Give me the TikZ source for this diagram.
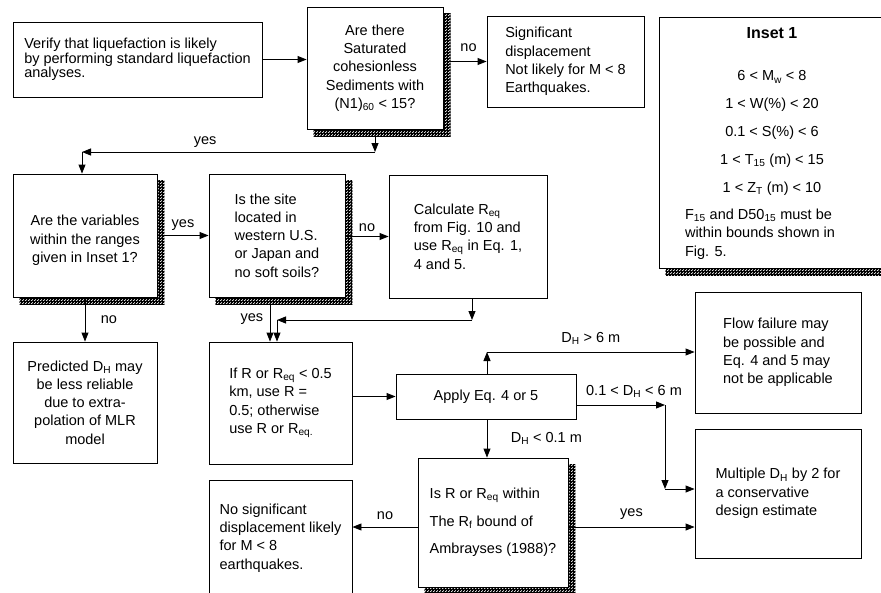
\documentclass[tikz,border=0pt]{standalone}
\usepackage{fontspec}
\setmainfont{Liberation Sans}
\usetikzlibrary{arrows.meta,positioning,backgrounds,patterns}
\newcommand{\Dh}{D\textsubscript{H}}
\newcommand{\Req}{R\textsubscript{eq}}

\begin{document}
\begin{tikzpicture}[x=1pt,y=-1pt,line width=0.9pt,
      >={Triangle[length=9pt,width=7pt]},
      every node/.style={font=\fontsize{14.5}{18.3}\selectfont},
      box/.style={draw,fill=white,inner sep=0pt},
      shadowfill/.style={pattern=crosshatch,postaction={pattern=crosshatch dots},postaction={pattern=grid}}]
      \useasboundingbox (0,0) rectangle (881,592);

      \node[box,minimum width=249pt,minimum height=75pt,align=left,font=\fontsize{14.5}{14.5}\selectfont] (1) at (137.5,59.5) {Verify that liquefaction is likely\\by performing standard liquefaction\\analyses.};
      \node[box,minimum width=136pt,minimum height=122pt,align=center] (2) at (375,68) {Are there\\Saturated\\cohesionless\\Sediments with\\(N1)\textsubscript{60} < 15?};
      \node[box,minimum width=157pt,minimum height=91pt,align=left] (3) at (565.5,61.5) {Significant\\displacement\\Not likely for M < 8\\Earthquakes.};

      % inset with the ranges
      \node[box,minimum width=226pt,minimum height=251pt] (4) at (772,142.5) {};
      \node[font=\bfseries\fontsize{16}{18}\selectfont] (i0) at (772,33) {Inset 1};
      \node[node distance=44pt,below of=i0] (i1) {6 < M\textsubscript{w} < 8};
      \node[node distance=28pt,below of=i1] (i2) {1 < W(\%) < 20};
      \node[node distance=28pt,below of=i2] (i3) {0.1 < S(\%) < 6};
      \node[node distance=28pt,below of=i3] (i4) {1 < T\textsubscript{15} (m) < 15};
      \node[node distance=28pt,below of=i4] (i5) {1 < Z\textsubscript{T} (m) < 10};
      \node[node distance=45pt,below of=i5,xshift=-12pt,align=left] (i6) {F\textsubscript{15} and D50\textsubscript{15} must be\\within bounds shown in\\Fig. 5.};

      \node[box,minimum width=144pt,minimum height=123pt,align=center] (5) at (85,235.5) {\mbox{}\\[2pt]Are the variables\\within the ranges\\given in Inset 1?};
      \node[box,minimum width=136pt,minimum height=123pt,align=left] (6) at (277,235.5) {Is the site\\located in\\western U.S.\\or Japan and\\no soft soils?};
      \node[box,minimum width=158pt,minimum height=123pt,align=left] (7) at (468,236.5) {Calculate \Req\\from Fig. 10 and\\use \Req{} in Eq. 1,\\4 and 5.};
      \node[box,minimum width=144pt,minimum height=121pt,align=center] (8) at (85,402.5) {Predicted \Dh{} may\\be less reliable\\due to extra-\\polation of MLR\\model};
      \node[box,minimum width=143pt,minimum height=122pt,align=left] (9) at (280.5,403) {If R or \Req{} < 0.5\\km, use R =\\0.5; otherwise\\use R or R\textsubscript{eq.}};
      \node[box,minimum width=180pt,minimum height=45pt] (10) at (486,396.5) {Apply Eq. 4 or 5};
      \node[box,minimum width=166pt,minimum height=121pt,align=left] (11) at (778,352.5) {Flow failure may\\be possible and\\Eq. 4 and 5 may\\not be applicable};
      \node[box,minimum width=166pt,minimum height=129pt,align=left] (12) at (778,493.5) {Multiple \Dh{} by 2 for\\a conservative\\design estimate};
      \node[box,minimum width=150pt,minimum height=129pt,align=left,font=\fontsize{14.5}{27.5}\selectfont] (13) at (493,522.5) {Is R or \Req{} within\\The R\textsubscript{f} bound of\\Ambrayses (1988)?};
      \node[box,minimum width=143pt,minimum height=116pt,align=left] (14) at (280.5,538) {No significant\\displacement likely\\for M < 8\\earthquakes.};

      % shadows of the question boxes
      \begin{scope}[on background layer]
        \foreach \n in {2,4,5,6,13}
          \fill[shadowfill] ([shift={(7pt,-7pt)}]\n.south west) rectangle ([shift={(7pt,-7pt)}]\n.north east);
      \end{scope}

      % bends of the connectors
      \coordinate (y1) at (375,152);
      \coordinate (y2) at (82,152);
      \coordinate (e1) at (270,320);
      \coordinate (f1) at (472,320);
      \coordinate (f2) at (277,320);
      \coordinate (a1) at (487,352);
      \coordinate (a2) at (665,405);
      \coordinate (a3) at (665,489);
      \coordinate (l1) at (493,527);

      \draw[->] (1.east) -- (2.west |- 1.east);
      \draw[->] ([xshift=7pt]3.west -| 2.east) -- node[above=6pt] {no} (3.west);
      \draw[->] (2.south -| y1) -- (y1);
      \draw[->] (y1) -- node[above=1pt,pos=0.58] {yes} (y2);
      \draw[->] (y2) -- (5.north -| y2);
      \draw[->] (5.east) -- node[above=1pt] {yes} (6.west);
      \draw[->] (6.east |- 7.west) -- node[above=1pt] {no} (7.west);
      \draw[->] (5.south) -- node[right=12pt] {no} (8.north);
      \draw[->] (6.south -| e1) -- node[left=3pt] {yes} (9.north -| e1);
      \draw[->] (7.south -| f1) -- (f1);
      \draw[->] (f1) -- (f2);
      \draw[->] (f2) -- (9.north -| f2);
      \draw[->] (9.east |- 10.west) -- (10.west);
      \draw[->] (10.north -| a1) -- (a1);
      \draw[->] (a1) -- node[above=4pt] {\Dh{} > 6 m} (11.west |- a1);
      \draw[->] (10.east |- a2) -- node[above=4pt,pos=0.65] {0.1 < \Dh{} < 6 m} (a2);
      \draw[->] (a2) -- (a3);
      \draw[->] (a3) -- (12.west |- a3);
      \draw[->] (10.south -| a1) -- node[right=20pt] {\Dh{} < 0.1 m} (13.north -| a1);
      \draw[->] (13.east |- l1) -- node[above=4pt] {yes} (12.west |- l1);
      \draw[->] (13.west |- l1) -- node[above=4pt] {no} (14.east |- l1);
    \end{tikzpicture}
\end{document}
